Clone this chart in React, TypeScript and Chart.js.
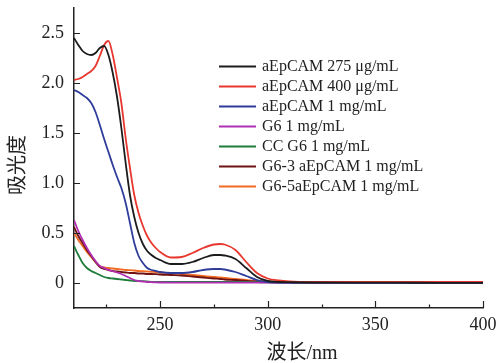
import React, { useEffect, useRef } from "react";
import { Chart, registerables } from "chart.js";

Chart.register(...registerables);

// Wavelength grid (nm)
const WAVELENGTHS = [
  210, 212, 214, 216, 218, 220, 222, 224, 226, 228, 230, 232, 234, 236, 238, 240, 242, 244, 246, 248, 250,
  255, 260, 265, 270, 275, 278, 280, 285, 290, 295, 300, 305, 310, 320, 340, 360, 380, 400,
];

const A_EPCAM_275 = [
  2.45, 2.38, 2.32, 2.29, 2.28, 2.3, 2.35, 2.37, 2.28, 2.1, 1.86, 1.55, 1.2, 0.88, 0.66, 0.5, 0.39, 0.32, 0.28, 0.25, 0.23,
  0.19, 0.19, 0.21, 0.25, 0.28, 0.28, 0.275, 0.24, 0.15, 0.06, 0.02, 0.01, 0.008, 0.005, 0.003, 0.003, 0.002, 0.002,
];
const A_EPCAM_400 = [
  2.03, 2.04, 2.06, 2.09, 2.12, 2.17, 2.27, 2.38, 2.42, 2.28, 2.05, 1.8, 1.45, 1.15, 0.88, 0.7, 0.57, 0.47, 0.4, 0.35, 0.31,
  0.255, 0.26, 0.3, 0.35, 0.385, 0.39, 0.385, 0.33, 0.21, 0.1, 0.045, 0.025, 0.015, 0.01, 0.01, 0.01, 0.01, 0.01,
];
const A_EPCAM_1MG = [
  1.93, 1.91, 1.88, 1.85, 1.8, 1.71, 1.58, 1.44, 1.31, 1.18, 1.06, 0.95, 0.8, 0.6, 0.4, 0.27, 0.2, 0.15, 0.13, 0.12, 0.11,
  0.1, 0.1, 0.11, 0.13, 0.14, 0.14, 0.135, 0.11, 0.07, 0.03, 0.01, 0.005, 0.004, 0.003, 0.002, 0.002, 0.002, 0.002,
];
const G6_1MG = [
  0.63, 0.52, 0.43, 0.35, 0.28, 0.22, 0.17, 0.15, 0.13, 0.12, 0.105, 0.09, 0.07, 0.05, 0.03, 0.02, 0.015, 0.01, 0.008, 0.006, 0.005,
  0.004, 0.004, 0.004, 0.003, 0.003, 0.003, 0.003, 0.003, 0.003, 0.003, 0.003, 0.003, 0.003, 0.003, 0.003, 0.003, 0.003, 0.003,
];
const CC_G6_1MG = [
  0.37, 0.28, 0.2, 0.15, 0.12, 0.1, 0.08, 0.06, 0.05, 0.045, 0.04, 0.035, 0.03, 0.025, 0.02, 0.02, 0.018, 0.015, 0.012, 0.01, 0.01,
  0.01, 0.01, 0.01, 0.01, 0.01, 0.01, 0.01, 0.01, 0.01, 0.008, 0.006, 0.005, 0.005, 0.005, 0.004, 0.004, 0.004, 0.004,
];
const G6_3_AEPCAM = [
  0.56, 0.47, 0.4, 0.33, 0.27, 0.21, 0.16, 0.14, 0.13, 0.12, 0.115, 0.11, 0.105, 0.1, 0.1, 0.095, 0.095, 0.09, 0.09, 0.088, 0.085,
  0.08, 0.075, 0.065, 0.055, 0.045, 0.04, 0.035, 0.03, 0.02, 0.015, 0.01, 0.006, 0.005, 0.005, 0.005, 0.005, 0.005, 0.005,
];
const G6_5_AEPCAM = [
  0.5, 0.43, 0.37, 0.31, 0.26, 0.21, 0.17, 0.155, 0.15, 0.145, 0.14, 0.135, 0.13, 0.128, 0.125, 0.12, 0.118, 0.115, 0.112, 0.11, 0.105,
  0.1, 0.09, 0.08, 0.07, 0.06, 0.055, 0.05, 0.04, 0.03, 0.02, 0.015, 0.012, 0.01, 0.01, 0.01, 0.01, 0.01, 0.01,
];

const SERIES_LABELS = [
  "aEpCAM 275 μg/mL",
  "aEpCAM 400 μg/mL",
  "aEpCAM 1 mg/mL",
  "G6 1 mg/mL",
  "CC G6 1 mg/mL",
  "G6-3 aEpCAM 1 mg/mL",
  "G6-5aEpCAM 1 mg/mL",
];
const SERIES_VALUES = [A_EPCAM_275, A_EPCAM_400, A_EPCAM_1MG, G6_1MG, CC_G6_1MG, G6_3_AEPCAM, G6_5_AEPCAM];
const SERIES_COLORS = ["#1c1c1c", "#e8372e", "#2f3d9a", "#b02fb3", "#1f7d3b", "#6e1212", "#f26a22"];

const X_MAJOR_TICKS = [250, 300, 350, 400];
const X_MINOR_TICKS = [225, 275, 325, 375];
const Y_TICKS = [0, 0.5, 1.0, 1.5, 2.0, 2.5];
const Y_TICK_LABELS = ["0", "0.5", "1.0", "1.5", "2.0", "2.5"];
const X_TITLE = "波长/nm";
const Y_TITLE = "吸光度";

const SERIF = "'Liberation Serif', 'Noto Sans CJK SC', serif";
const AXIS_COLOR = "#222";

const overlayPlugin = {
  id: "overlay",
  afterDraw(chart: any) {
    const { ctx, chartArea, scales } = chart;
    const x = scales.x;
    const y = scales.y;
    ctx.save();
    ctx.strokeStyle = AXIS_COLOR;
    ctx.lineWidth = 1.2;
    ctx.beginPath();
    X_MAJOR_TICKS.forEach((v) => {
      const px = Math.round(x.getPixelForValue(v)) + 0.5;
      ctx.moveTo(px, chartArea.bottom);
      ctx.lineTo(px, chartArea.bottom - 7);
    });
    X_MINOR_TICKS.forEach((v) => {
      const px = Math.round(x.getPixelForValue(v)) + 0.5;
      ctx.moveTo(px, chartArea.bottom);
      ctx.lineTo(px, chartArea.bottom - 3.5);
    });
    Y_TICKS.forEach((v) => {
      const py = Math.round(y.getPixelForValue(v)) + 0.5;
      ctx.moveTo(chartArea.left, py);
      ctx.lineTo(chartArea.left + 6, py);
    });
    ctx.stroke();

    // legend
    const lx0 = 219;
    const lx1 = 256;
    const tx = 262;
    const ly0 = 66.5;
    const step = 20;
    ctx.font = `16px ${SERIF}`;
    ctx.textBaseline = "middle";
    ctx.textAlign = "left";
    chart.data.datasets.forEach((ds: any, i: number) => {
      const yy = ly0 + i * step;
      ctx.strokeStyle = ds.borderColor;
      ctx.lineWidth = 2;
      ctx.beginPath();
      ctx.moveTo(lx0, yy);
      ctx.lineTo(lx1, yy);
      ctx.stroke();
      ctx.fillStyle = "#222";
      ctx.fillText(ds.label, tx, yy + 0.5);
    });

    // axis titles
    ctx.fillStyle = "#222";
    ctx.font = `20px ${SERIF}`;
    ctx.textAlign = "center";
    ctx.textBaseline = "middle";
    ctx.fillText(X_TITLE, 302, 354);
    ctx.save();
    ctx.translate(19, 165);
    ctx.rotate(-Math.PI / 2);
    ctx.fillText(Y_TITLE, 0, 0);
    ctx.restore();
    ctx.restore();
  },
};

export default function App() {
  const canvasRef = useRef<HTMLCanvasElement | null>(null);

  useEffect(() => {
    if (!canvasRef.current) return;
    const datasets = SERIES_LABELS.map((label, i) => ({
      label,
      data: WAVELENGTHS.map((w, j) => ({ x: w, y: SERIES_VALUES[i][j] })),
      borderColor: SERIES_COLORS[i],
      backgroundColor: SERIES_COLORS[i],
      borderWidth: 1.8,
      pointRadius: 0,
      fill: false,
      order: i,
      cubicInterpolationMode: "monotone" as const,
    }));
    const chart = new Chart(canvasRef.current, {
      type: "line",
      data: { datasets },
      options: {
        responsive: false,
        animation: false,
        events: [],
        layout: { padding: { top: 8, right: 16, left: 0, bottom: 0 } },
        plugins: { legend: { display: false }, tooltip: { enabled: false } },
        scales: {
          x: {
            type: "linear",
            min: 210,
            max: 400,
            grid: { display: false, drawTicks: false },
            border: { display: true, color: AXIS_COLOR, width: 1.5 },
            afterBuildTicks: (s: any) => {
              s.ticks = X_MAJOR_TICKS.map((v) => ({ value: v }));
            },
            afterFit: (s: any) => {
              s.height = 55;
              s.paddingLeft = 0;
              s.paddingRight = 0;
            },
            ticks: {
              autoSkip: false,
              maxRotation: 0,
              padding: 6,
              color: "#222",
              font: { family: SERIF, size: 18 },
              callback: (v: any) => String(v),
            },
          },
          y: {
            type: "linear",
            min: -0.25,
            max: 2.75,
            grid: { display: false, drawTicks: false },
            border: { display: true, color: AXIS_COLOR, width: 1.5 },
            afterBuildTicks: (s: any) => {
              s.ticks = Y_TICKS.map((v) => ({ value: v }));
            },
            afterFit: (s: any) => {
              s.width = 74;
              s.paddingTop = 0;
              s.paddingBottom = 0;
            },
            ticks: {
              padding: 10,
              color: "#222",
              font: { family: SERIF, size: 18 },
              callback: (v: any) => {
                const idx = Y_TICKS.indexOf(Number(v));
                return idx >= 0 ? Y_TICK_LABELS[idx] : "";
              },
            },
          },
        },
      },
      plugins: [overlayPlugin],
    });
    return () => chart.destroy();
  }, []);

  return (
    <div style={{ position: "fixed", left: 0, top: 0, width: 499, height: 363, background: "#fff" }}>
      <canvas ref={canvasRef} width={499} height={363} style={{ width: 499, height: 363, display: "block" }} />
    </div>
  );
}
